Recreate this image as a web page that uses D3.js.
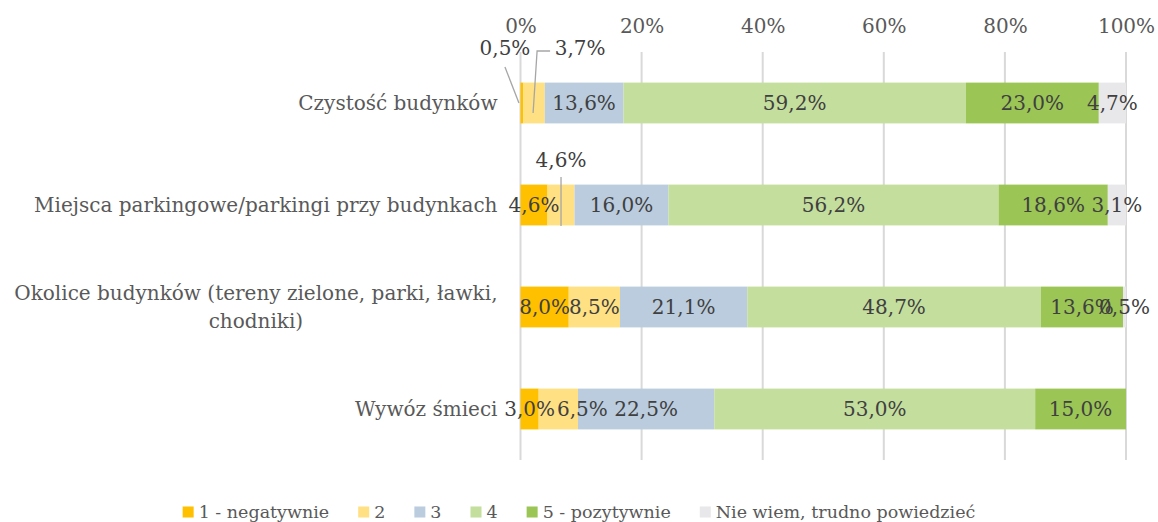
<!DOCTYPE html>
<html>
<head>
<meta charset="utf-8">
<script src="https://cdn.jsdelivr.net/npm/d3@7"></script>
<style>
  body { margin: 0; background: #fff; }
</style>
</head>
<body>
<div id="chart"></div>
<script>
var categories = ['Czystość budynków', 'Miejsca parkingowe/parkingi przy budynkach', 'Okolice budynków (tereny zielone, parki, ławki, chodniki)', 'Wywóz śmieci'];
var seriesNames = ['1 - negatywnie', '2', '3', '4', '5 - pozytywnie', 'Nie wiem, trudno powiedzieć'];
var negatywnie = [0.5, 4.6, 8.0, 3.0];
var ocena2 = [3.7, 4.6, 8.5, 6.5];
var ocena3 = [13.6, 16.0, 21.1, 22.5];
var ocena4 = [59.2, 56.2, 48.7, 53.0];
var pozytywnie = [23.0, 18.6, 13.6, 15.0];
var nieWiem = [4.7, 3.1, 0.5, 0];
var tickValues = [0, 0.2, 0.4, 0.6, 0.8, 1];

(function() {
  var FONT = '"DejaVu Serif", serif';
  var FS = 20;
  var colors = ['#FFC000', '#FFE083', '#BACCDD', '#C4DE9E', '#9BC555', '#E8E8EA'];
  var allSeries = [negatywnie, ocena2, ocena3, ocena4, pozytywnie, nieWiem];

  var w = 1158, h = 522;
  var margin = { top: 52, right: 32, bottom: 62, left: 520.5 };
  var iw = w - margin.left - margin.right;
  var ih = h - margin.top - margin.bottom;

  var svg = d3.select('#chart').append('svg').attr('width', w).attr('height', h);
  var g = svg.append('g').attr('transform', 'translate(' + margin.left + ',' + margin.top + ')');

  var rows = categories.map(function(c, i) {
    var r = { cat: c };
    seriesNames.forEach(function(s, j) { r[s] = allSeries[j][i]; });
    return r;
  });
  var stacked = d3.stack().keys(seriesNames).offset(d3.stackOffsetExpand)(rows);

  var x = d3.scaleLinear().domain([0, 1]).range([0, iw]);
  var y = d3.scaleBand().domain(categories).range([0, ih]).paddingInner(0.6).paddingOuter(0.3);

  // Grid
  g.append('g').selectAll('line').data(tickValues).join('line')
    .attr('x1', function(d) { return x(d); }).attr('x2', function(d) { return x(d); })
    .attr('y1', 0).attr('y2', ih)
    .attr('stroke', '#D9D9D9').attr('stroke-width', 2);

  // Top tick labels
  g.append('g').attr('transform', 'translate(0,-19)')
    .call(d3.axisTop(x).tickValues(tickValues).tickSize(0).tickPadding(0).tickFormat(function(d) { return Math.round(d * 100) + '%'; }))
    .call(function(a) { a.select('.domain').remove(); })
    .call(function(a) { a.selectAll('.tick text').attr('fill', '#595959').attr('font-size', FS + 'px').attr('font-family', FONT); });

  // Bars
  var layer = g.selectAll('g.layer').data(stacked).join('g').attr('class', 'layer')
    .attr('fill', function(d, i) { return colors[i]; });
  layer.selectAll('rect').data(function(d) { return d; }).join('rect')
    .attr('x', function(d) { return x(d[0]); })
    .attr('width', function(d) { return x(d[1]) - x(d[0]); })
    .attr('y', function(d) { return y(d.data.cat); })
    .attr('height', y.bandwidth());

  // Data labels (some moved, some with leader lines)
  var callouts = {
    '0-0': { dx: -17, dy: -55, line: [[-17, -36], [-3, 0]] },
    '0-1': { dx: 46, dy: -55, line: [[16, -52], [3, -52], [-1, 10]] },
    '1-1': { dx: 0, dy: -45, line: [[0, -28], [0, 21]] },
    '3-1': { dx: 24, dy: 0 }
  };
  var fmt = function(v) { return v.toFixed(1).replace('.', ',') + '%'; };
  var lg = g.append('g');
  stacked.forEach(function(s, j) {
    s.forEach(function(d, i) {
      var v = allSeries[j][i];
      if (!v) return;
      var cx = x((d[0] + d[1]) / 2);
      var cy = y(d.data.cat) + y.bandwidth() / 2;
      var c = callouts[i + '-' + j];
      if (c && c.line) {
        lg.append('path')
          .attr('d', d3.line()(c.line.map(function(p) { return [cx + p[0], cy + p[1]]; })))
          .attr('fill', 'none').attr('stroke', '#A6A6A6').attr('stroke-width', 1.3);
      }
      lg.append('text')
        .attr('x', cx + (c ? c.dx : 0)).attr('y', cy + (c ? c.dy : 0)).attr('dy', '0.35em')
        .attr('text-anchor', 'middle').attr('fill', '#404040')
        .attr('font-size', FS + 'px').attr('font-family', FONT)
        .text(fmt(v));
    });
  });

  // Category labels (wrapped, right-aligned block, centred lines)
  var measure = svg.append('text').attr('font-size', FS + 'px').attr('font-family', FONT);
  function tw(s) { measure.text(s); return measure.node().getComputedTextLength(); }
  var maxW = 500, right = -23;
  categories.forEach(function(cat) {
    var words = cat.split(' '), lines = [], cur = '';
    words.forEach(function(wd) {
      var t = cur ? cur + ' ' + wd : wd;
      if (tw(t) > maxW && cur) { lines.push(cur); cur = wd; } else { cur = t; }
    });
    lines.push(cur);
    var bw = d3.max(lines, tw);
    var cy = y(cat) + y.bandwidth() / 2;
    var lh = 28;
    lines.forEach(function(l, k) {
      g.append('text')
        .attr('x', right - bw / 2)
        .attr('y', cy + (k - (lines.length - 1) / 2) * lh).attr('dy', '0.35em')
        .attr('text-anchor', 'middle').attr('fill', '#595959')
        .attr('font-size', FS + 'px').attr('font-family', FONT)
        .text(l);
    });
  });

  // Legend
  var LFS = 17.5, sq = 11, gapIn = 5, gapOut = 29;
  measure.attr('font-size', LFS + 'px');
  var widths = seriesNames.map(function(s) { return sq + gapIn + tw(s); });
  measure.remove();
  var total = d3.sum(widths) + gapOut * (widths.length - 1);
  var lx = w / 2 - total / 2, ly = 512;
  var leg = svg.append('g');
  seriesNames.forEach(function(s, i) {
    leg.append('rect').attr('x', lx).attr('y', ly - sq / 2).attr('width', sq).attr('height', sq).attr('fill', colors[i]);
    leg.append('text').attr('x', lx + sq + gapIn).attr('y', ly).attr('dy', '0.35em')
      .attr('fill', '#595959').attr('font-size', LFS + 'px').attr('font-family', FONT).text(s);
    lx += widths[i] + gapOut;
  });
})();
</script>
</body>
</html>
